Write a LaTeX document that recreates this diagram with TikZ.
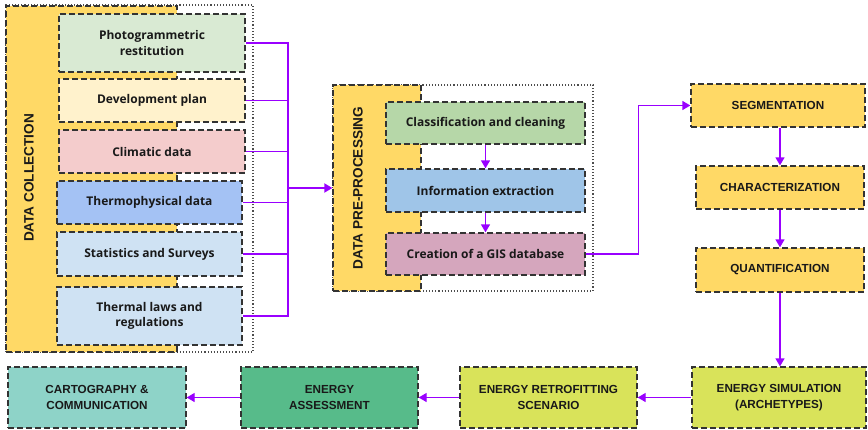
\documentclass[tikz,border=0pt]{standalone}
\usepackage{fontspec}
\setmainfont{Liberation Sans}
\newfontfamily\opens{Open Sans}
\usetikzlibrary{arrows.meta}
\definecolor{purp}{HTML}{9900FF}
\definecolor{yel}{HTML}{FFD966}
\definecolor{cA}{HTML}{D9EAD3}
\definecolor{cB}{HTML}{FFF2CC}
\definecolor{cC}{HTML}{F4CCCC}
\definecolor{cD}{HTML}{A4C2F4}
\definecolor{cE}{HTML}{CFE2F3}
\definecolor{pA}{HTML}{B6D7A8}
\definecolor{pB}{HTML}{9FC5E8}
\definecolor{pC}{HTML}{D5A6BD}
\definecolor{teal}{HTML}{8ED3C8}
\definecolor{grn}{HTML}{57BB8A}
\definecolor{lime}{HTML}{D9E35A}
\tikzset{
  box/.style={draw=black!80, dash pattern=on 6pt off 3pt, line width=1.3pt, align=center, inner sep=2pt, text=black!90},
  lbl/.style={font=\opens\bfseries\fontsize{12}{15.5}\selectfont},
  capt/.style={font=\bfseries\fontsize{11.7}{16.5}\selectfont},
  vcapt/.style={font=\bfseries\fontsize{13.6}{16}\selectfont, rotate=90, text=black!90},
  dotframe/.style={draw=black!70, dotted, line width=1.1pt},
  link/.style={draw=purp, line width=1.3pt},
  arr/.style={link, -{Triangle[length=8pt,width=9pt]}},
}
\begin{document}
\begin{tikzpicture}[x=1pt,y=-1pt]
\useasboundingbox (0,0) rectangle (868,429);
% data collection group
\node[dotframe, minimum width=247pt, minimum height=347pt] (dcframe) at (129.5,178.5) {};
\node[box, fill=yel, minimum width=171pt, minimum height=346pt] (dcbg) at (91.5,179) {};
\node[vcapt] (dctitle) at (29,178) {DATA COLLECTION};
\node[box, lbl, fill=cA, minimum width=186pt, minimum height=58pt] (b1) at (152,43) {Photogrammetric\\restitution};
\node[box, lbl, fill=cB, minimum width=186pt, minimum height=43pt] (b2) at (152,100.5) {Development plan};
\node[box, lbl, fill=cC, minimum width=186pt, minimum height=43pt] (b3) at (152,151.5) {Climatic data};
\node[box, lbl, fill=cD, minimum width=185pt, minimum height=43pt] (b4) at (149.5,202.5) {Thermophysical data};
\node[box, lbl, fill=cE, minimum width=185pt, minimum height=44pt] (b5) at (149.5,254) {Statistics and Surveys};
\node[box, lbl, fill=cE, minimum width=185pt, minimum height=58pt] (b6) at (149.5,316) {Thermal laws and\\regulations};
% pre-processing group
\node[dotframe, minimum width=260pt, minimum height=206pt] (ppframe) at (463,188) {};
\node[box, fill=yel, minimum width=88pt, minimum height=206pt] (ppbg) at (377,188) {};
\node[vcapt] (pptitle) at (358,188) {DATA PRE-PROCESSING};
\node[box, lbl, fill=pA, minimum width=199pt, minimum height=42pt] (p1) at (485.5,123) {Classification and cleaning};
\node[box, lbl, fill=pB, minimum width=199pt, minimum height=43pt] (p2) at (485.5,190.5) {Information extraction};
\node[box, lbl, fill=pC, minimum width=199pt, minimum height=42pt] (p3) at (485.5,254) {Creation of a GIS database};
% right column
\node[box, capt, fill=yel, minimum width=174pt, minimum height=43pt] (seg) at (778,105.5) {SEGMENTATION};
\node[box, capt, fill=yel, minimum width=168pt, minimum height=43pt] (char) at (780,187.5) {CHARACTERIZATION};
\node[box, capt, fill=yel, minimum width=168pt, minimum height=44pt] (quant) at (780,270) {QUANTIFICATION};
% bottom row
\node[box, capt, fill=lime, minimum width=174pt, minimum height=61pt] (sim) at (779,397.5) {ENERGY SIMULATION\\(ARCHETYPES)};
\node[box, capt, fill=lime, minimum width=177pt, minimum height=61pt] (retro) at (548.5,397.5) {ENERGY RETROFITTING\\SCENARIO};
\node[box, capt, fill=grn, minimum width=177pt, minimum height=61pt] (assess) at (329.5,397.5) {ENERGY\\ASSESSMENT};
\node[box, capt, fill=teal, minimum width=178pt, minimum height=61pt] (cart) at (97,397.5) {CARTOGRAPHY \&\\COMMUNICATION};
% connectors
\coordinate (bus) at (288,188);
\foreach \n in {b1,b2,b3,b4,b5,b6} { \draw[link] (\n.east) -| (bus); }
\draw[arr, line width=1.8pt] (bus) -- (ppbg.west);
\draw[arr] (p1.south) -- (p2.north);
\draw[arr] (p2.south) -- (p3.north);
\draw[arr] (p3.east) -- ++(53,0) |- (seg.west);
\draw[arr] (seg.south -| char.south) -- (char.north);
\draw[arr] (char.south) -- (quant.north);
\draw[arr] (quant.south) -- (quant.south |- sim.north);
\draw[arr] (sim.west) -- (retro.east);
\draw[arr] (retro.west) -- (assess.east);
\draw[arr] (assess.west) -- (cart.east);
\end{tikzpicture}
\end{document}
